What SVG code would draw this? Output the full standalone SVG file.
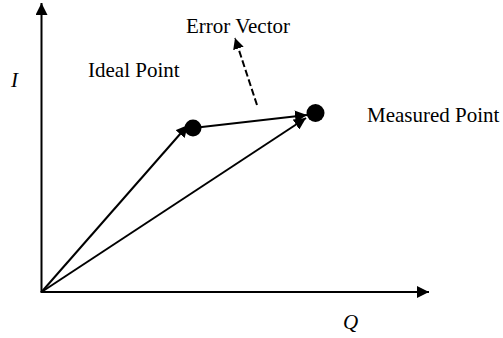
<svg xmlns="http://www.w3.org/2000/svg" width="503" height="338" viewBox="0 0 503 338">
<defs>
<style>
.ln{stroke:#000;stroke-width:2;fill:none}
.t{font-family:"Liberation Serif","Times New Roman",serif;font-size:21px;fill:#000}
.it{font-style:italic}
</style>
<marker id="ah" viewBox="0 0 12 12" refX="12" refY="6" markerWidth="12" markerHeight="12" markerUnits="userSpaceOnUse" orient="auto">
<path d="M0,0 L12,6 L0,12 Z" fill="#000"/>
</marker>
<marker id="ahs" viewBox="0 0 12 12" refX="12" refY="6" markerWidth="11" markerHeight="11" markerUnits="userSpaceOnUse" orient="auto">
<path d="M0,0 L12,6 L0,12 Z" fill="#000"/>
</marker>
</defs>
<rect width="503" height="338" fill="#fff"/>
<g id="axes">
<line class="ln" x1="41.5" y1="292" x2="41.5" y2="3" marker-end="url(#ah)"/>
<line class="ln" x1="40.5" y1="292" x2="429" y2="292" marker-end="url(#ah)"/>
<text class="t it" x="11" y="87">I</text>
<text class="t it" x="343" y="329">Q</text>
</g>
<g id="ideal-point">
<circle cx="193" cy="128" r="8.5" fill="#000"/>
<text class="t" x="88" y="77">Ideal Point</text>
</g>
<g id="measured-point">
<circle cx="315.5" cy="113" r="9" fill="#000"/>
<text class="t" x="367" y="122">Measured Point</text>
</g>
<g id="error-vector-label">
<text class="t" x="186" y="33">Error Vector</text>
</g>
<g id="connectors">
<line class="ln" x1="41.5" y1="292" x2="188" y2="125" marker-end="url(#ah)"/>
<line class="ln" x1="41.5" y1="292" x2="306" y2="118" marker-end="url(#ah)"/>
<line class="ln" x1="193" y1="128" x2="307" y2="115" marker-end="url(#ah)"/>
<line class="ln" x1="257" y1="105" x2="235" y2="38" stroke-dasharray="7,3" marker-end="url(#ahs)"/>
</g>
</svg>
